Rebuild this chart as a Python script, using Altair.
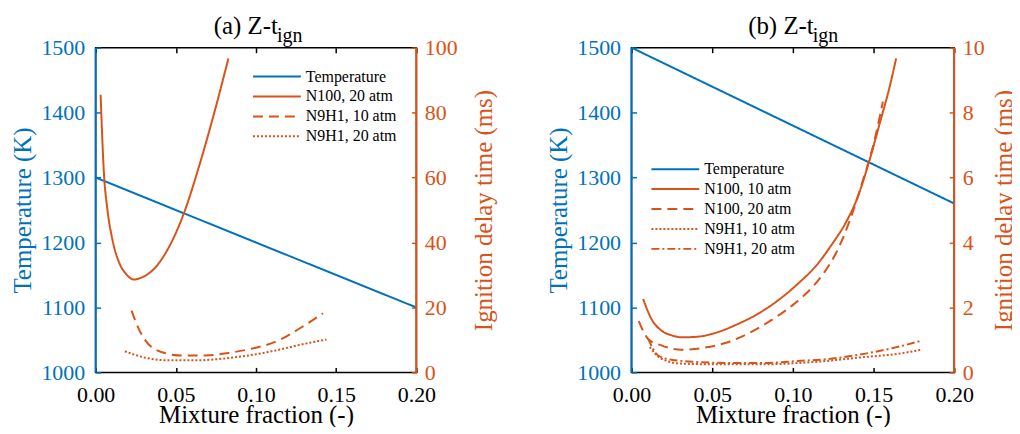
import altair as alt
import pandas as pd

BLUE = "#0072BD"
ORANGE = "#D95319"
FONT = "Liberation Serif"

# ---------------- data: panel (a) ----------------
a_T_z = [0.0, 0.2]
a_T_val = [1300, 1100]

a_n100_20_z = [0.0031, 0.0052, 0.0072, 0.0104, 0.0145, 0.0190, 0.0238, 0.0290,
               0.0352, 0.0455, 0.0548, 0.0642, 0.0725, 0.0828]
a_n100_20_t = [85.5, 61.0, 50.7, 41.0, 34.0, 30.3, 28.6, 29.3,
               31.3, 38.4, 48.7, 63.0, 77.3, 96.7]

a_n9h1_10_z = [0.0224, 0.0265, 0.0311, 0.0414, 0.0538, 0.0683, 0.0828, 0.0973,
               0.1139, 0.1284, 0.1418]
a_n9h1_10_t = [19.0, 13.8, 9.8, 6.2, 5.2, 5.2, 6.0, 7.3, 9.8, 13.9, 18.2]

a_n9h1_20_z = [0.0182, 0.0311, 0.0455, 0.0621, 0.0787, 0.0952, 0.1118, 0.1284, 0.1439]
a_n9h1_20_t = [6.5, 4.5, 3.7, 3.7, 4.2, 5.2, 6.7, 8.6, 10.1]

# ---------------- data: panel (b) ----------------
b_T_z = [0.0, 0.2]
b_T_val = [1500, 1260]

b_n100_10_z = [0.0072, 0.0123, 0.0185, 0.0250, 0.0309, 0.0412, 0.0535, 0.0659,
               0.0782, 0.0906, 0.1029, 0.1150, 0.1250, 0.1321, 0.1400, 0.1470,
               0.1540, 0.1600, 0.1640]
b_n100_10_t = [2.26, 1.65, 1.29, 1.14, 1.08, 1.10, 1.24, 1.49,
               1.80, 2.21, 2.72, 3.32, 4.00, 4.55, 5.38, 6.45,
               7.70, 8.80, 9.67]

b_n100_20_z = [0.0045, 0.0103, 0.0185, 0.0309, 0.0453, 0.0597, 0.0720, 0.0864,
               0.1008, 0.1131, 0.1200, 0.1270, 0.1372, 0.1424, 0.1506, 0.1558]
b_n100_20_t = [1.58, 1.03, 0.83, 0.70, 0.76, 0.93, 1.19, 1.60,
               2.11, 2.68, 3.12, 3.70, 4.95, 5.75, 7.15, 8.34]

b_n9h1_10_z = [0.0113, 0.0185, 0.0309, 0.0515, 0.0823, 0.1131, 0.1440, 0.1646, 0.1800]
b_n9h1_10_t = [0.78, 0.42, 0.27, 0.25, 0.25, 0.32, 0.47, 0.57, 0.70]

b_n9h1_20_z = [0.0103, 0.0165, 0.0247, 0.0412, 0.0617, 0.0823, 0.1029, 0.1235,
               0.1440, 0.1646, 0.1800]
b_n9h1_20_t = [1.04, 0.52, 0.39, 0.32, 0.29, 0.29, 0.35, 0.42, 0.57, 0.78, 0.98]

x_ticks = [0.0, 0.05, 0.10, 0.15, 0.20]
T_ticks = [1000, 1100, 1200, 1300, 1400, 1500]
a_t_ticks = [0, 20, 40, 60, 80, 100]
b_t_ticks = [0, 2, 4, 6, 8, 10]

series_a = ["Temperature", "N100, 20 atm", "N9H1, 10 atm", "N9H1, 20 atm"]
dash_a = [[1, 0], [1, 0], [10, 6], [2, 2]]
series_b = ["Temperature", "N100, 10 atm", "N100, 20 atm", "N9H1, 10 atm", "N9H1, 20 atm"]
dash_b = [[1, 0], [1, 0], [10, 6], [2, 2], [8, 3, 2, 3]]

H = 326


def long_df(pairs):
    rows = []
    for name, zs, ts in pairs:
        for z, t in zip(zs, ts):
            rows.append({"z": z, "t": t, "series": name})
    return pd.DataFrame(rows)


def panel(letter, W, T_z, T_val, ign_pairs, series, dashes, t_ticks, leg_x, leg_y,
          rt_pad, right_extent):
    temp_df = pd.DataFrame({"z": T_z, "T": T_val, "series": "Temperature"})
    ign_df = long_df(ign_pairs)

    colors = [BLUE] + [ORANGE] * (len(series) - 1)
    legend = alt.Legend(orient="none", legendX=leg_x, legendY=leg_y, title=None,
                        labelFont=FONT, labelFontSize=16, labelColor="black",
                        symbolType="stroke", symbolSize=2304, symbolStrokeWidth=2,
                        clipHeight=20, rowPadding=0, labelOffset=4, padding=0)
    color = alt.Color("series:N", scale=alt.Scale(domain=series, range=colors), legend=legend)
    dash = alt.StrokeDash("series:N", scale=alt.Scale(domain=series, range=dashes), legend=legend)

    xscale = alt.Scale(domain=[0, 0.2], nice=False, zero=False)

    temp = alt.Chart(temp_df).mark_line(strokeWidth=2).encode(
        x=alt.X("z:Q", scale=xscale,
                axis=alt.Axis(orient="bottom", values=x_ticks, format=".2f", offset=-5,
                              domain=False, tickSize=5, tickWidth=1.5, tickColor="black",
                              labelColor="black", labelFont=FONT, labelFontSize=22,
                              labelPadding=12, labelFlush=False, labelOverlap=False,
                              title="Mixture fraction (-)", titleFont=FONT, titleFontSize=25,
                              titleFontWeight="normal", titleColor="black", titlePadding=-2.5,
                              grid=False)),
        y=alt.Y("T:Q", scale=alt.Scale(domain=[1000, 1500], nice=False, zero=False),
                axis=alt.Axis(orient="left", values=T_ticks, format="d", offset=-5,
                              domain=False, tickSize=5, tickWidth=1.5, tickColor=BLUE,
                              labelColor=BLUE, labelFont=FONT, labelFontSize=22,
                              labelPadding=11, labelOverlap=False,
                              title="Temperature (K)", titleFont=FONT, titleFontSize=25,
                              titleFontWeight="normal", titleColor=BLUE, titlePadding=5,
                              grid=False)),
        color=color,
        strokeDash=dash,
    )

    ign = alt.Chart(ign_df).mark_line(strokeWidth=2, interpolate="monotone").encode(
        x=alt.X("z:Q", scale=xscale,
                axis=alt.Axis(orient="top", values=x_ticks, offset=-5, domain=False,
                              tickSize=5, tickWidth=1.5, tickColor="black", labels=False,
                              grid=False),
                title=None),
        y=alt.Y("t:Q", scale=alt.Scale(domain=[t_ticks[0], t_ticks[-1]], nice=False),
                axis=alt.Axis(orient="right", values=t_ticks, format="d", offset=-5,
                              domain=False, tickSize=5, tickWidth=1.5, tickColor=ORANGE,
                              labelColor=ORANGE, labelFont=FONT, labelFontSize=22,
                              labelPadding=8, labelOverlap=False,
                              title="Ignition delay time (ms)", titleFont=FONT,
                              titleFontSize=25, titleFontWeight="normal", titleColor=ORANGE,
                              titleAngle=270, titleBaseline="top", titlePadding=rt_pad,
                              grid=False)),
        color=color,
        strokeDash=dash,
    )

    one = pd.DataFrame({"k": [0]})
    left_rule = alt.Chart(one).mark_rule(color=BLUE, strokeWidth=2).encode(
        x=alt.value(0), y=alt.value(0), y2=alt.value(H))
    right_rule = alt.Chart(one).mark_rule(color=ORANGE, strokeWidth=2).encode(
        x=alt.value(W), y=alt.value(0), y2=alt.value(H))

    title_main = alt.Chart(one).mark_text(font=FONT, fontSize=25, align="right",
                                          baseline="alphabetic", color="black").encode(
        x=alt.value(183), y=alt.value(-14), text=alt.value(f"({letter}) Z-t"))
    title_sub = alt.Chart(one).mark_text(font=FONT, fontSize=20, align="left",
                                         baseline="alphabetic", color="black").encode(
        x=alt.value(182), y=alt.value(-6), text=alt.value("ign"))

    # invisible layout frame (fixes the panel's outer extent)
    frame_v = alt.Chart(one).mark_rule(opacity=0).encode(
        x=alt.value(-88), y=alt.value(-41), y2=alt.value(H + 60))
    frame_v2 = alt.Chart(one).mark_rule(opacity=0).encode(
        x=alt.value(W + right_extent), y=alt.value(-41), y2=alt.value(H + 60))

    return alt.layer(temp, ign, left_rule, right_rule, title_main, title_sub,
                     frame_v, frame_v2).resolve_scale(
        y="independent").resolve_axis(x="independent", y="independent").properties(
        width=W, height=H)


pa = panel("a", 322, a_T_z, a_T_val,
           [("N100, 20 atm", a_n100_20_z, a_n100_20_t),
            ("N9H1, 10 atm", a_n9h1_10_z, a_n9h1_10_t),
            ("N9H1, 20 atm", a_n9h1_20_z, a_n9h1_20_t)],
           series_a, dash_a, a_t_ticks, 157, 19, 14, 82)

pb = panel("b", 324, b_T_z, b_T_val,
           [("N100, 10 atm", b_n100_10_z, b_n100_10_t),
            ("N100, 20 atm", b_n100_20_z, b_n100_20_t),
            ("N9H1, 10 atm", b_n9h1_10_z, b_n9h1_10_t),
            ("N9H1, 20 atm", b_n9h1_20_z, b_n9h1_20_t)],
           series_b, dash_b, b_t_ticks, 19, 112, 8, 64)

chart = alt.hconcat(pa, pb, spacing=44).resolve_scale(
    color="independent", strokeDash="independent").resolve_legend(
    color="independent", strokeDash="independent").configure(
    font=FONT).configure_axis(labelFont=FONT, titleFont=FONT).configure_legend(
    labelFont=FONT).configure_view(
    stroke="black", strokeWidth=1.5).properties(
    padding={"left": -1, "top": -3, "right": -7, "bottom": -7}, background="white")

chart.save("out.html", embed_options={"renderer": "svg", "actions": False})
